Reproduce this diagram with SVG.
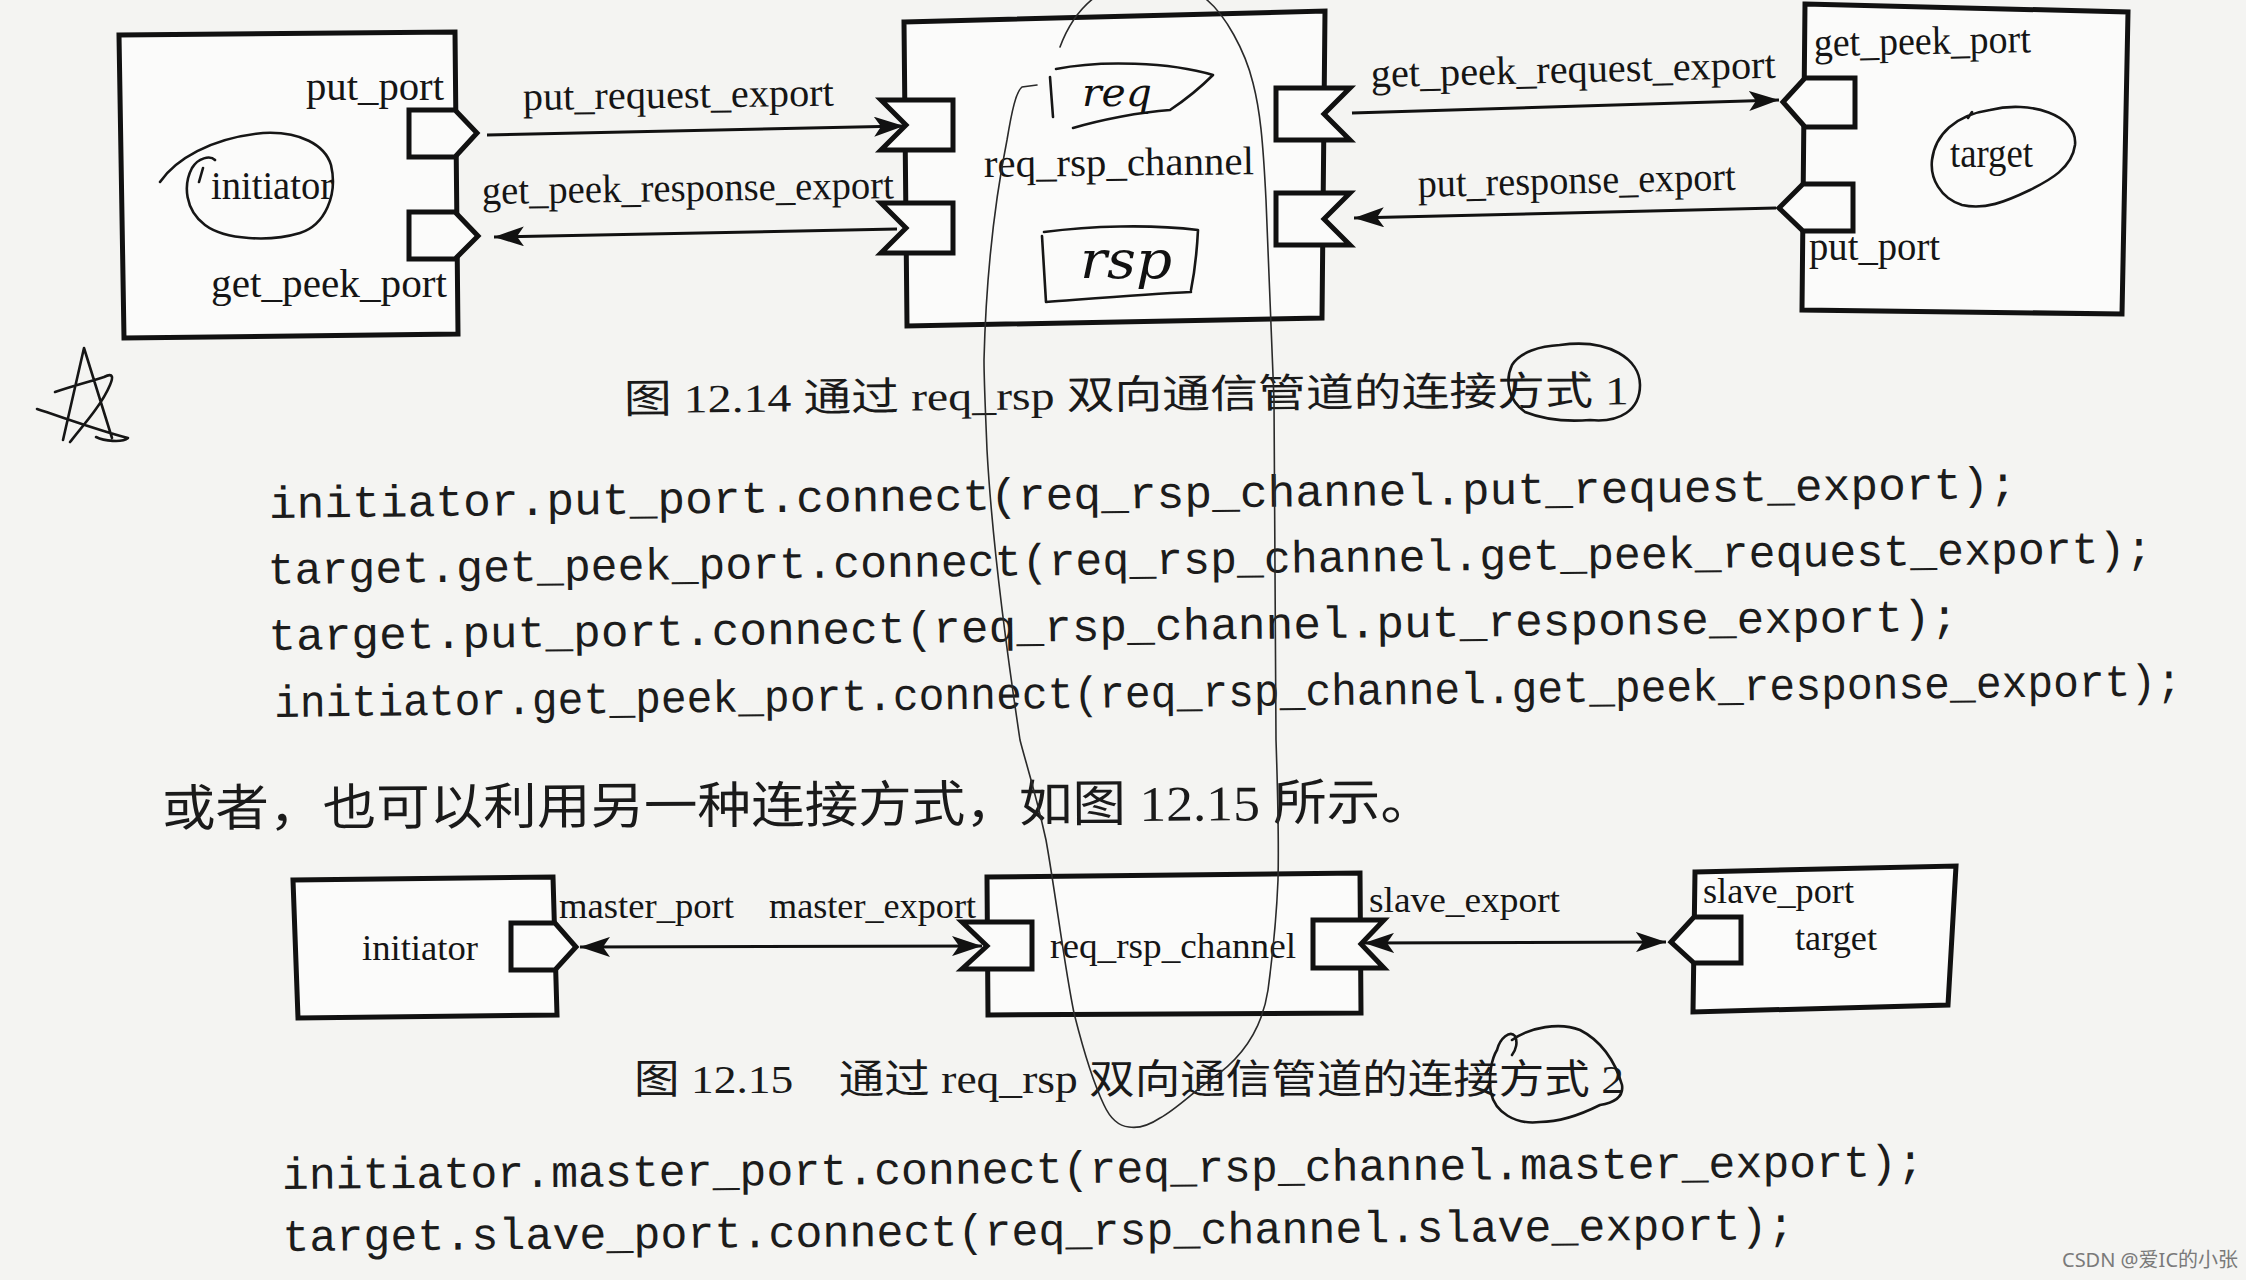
<svg xmlns="http://www.w3.org/2000/svg" width="2246" height="1280" viewBox="0 0 2246 1280">
<defs>
<style>
.box{fill:#fbfbfa;stroke:#111;stroke-width:5;stroke-linejoin:miter}
.port{fill:#fbfbfa;stroke:#111;stroke-width:5;stroke-linejoin:miter}
.wire{fill:none;stroke:#111;stroke-width:3}
.lbl{font-family:"Liberation Serif","Times New Roman",serif;font-size:40px;fill:#151515}
.lbl2{font-family:"Liberation Serif","Times New Roman",serif;font-size:35px;fill:#151515}
.code{font-family:"Liberation Mono","Courier New",monospace;font-size:45px;fill:#1c1c1c}
.cn{font-family:"Liberation Serif","Noto Sans CJK SC",serif;fill:#1a1a1a}
.pen{fill:none;stroke:#161616;stroke-width:2.6;stroke-linecap:round;stroke-linejoin:round}
.thin{fill:none;stroke:#2a2a2a;stroke-width:1.6;stroke-linecap:round}
.hand{font-family:"DejaVu Serif","Liberation Serif",serif;font-style:italic;fill:#111}
</style>
<marker id="ah" viewBox="0 0 30 20" refX="30" refY="10" markerWidth="30" markerHeight="20" markerUnits="userSpaceOnUse" orient="auto-start-reverse">
<path d="M0,0 L30,10 L0,20 L7,10 Z" fill="#111"/>
</marker>
</defs>
<rect x="0" y="0" width="2246" height="1280" fill="#f4f4f2"/>

<!-- Figure 12.14 -->
<g id="fig1-initiator">
<polygon class="box" points="119,35 455,32 458,334 124,338"/>
<polygon class="port" points="409,110 455,110 477,133 455,157 409,157"/>
<polygon class="port" points="409,212 455,212 478,236 455,259 409,259"/>
<text class="lbl" x="306" y="100" textLength="138" lengthAdjust="spacingAndGlyphs">put_port</text>
<text class="lbl" x="211" y="199" textLength="122" lengthAdjust="spacingAndGlyphs">initiator</text>
<text class="lbl" x="211" y="297" textLength="236" lengthAdjust="spacingAndGlyphs">get_peek_port</text>
</g>

<g id="fig1-channel">
<polygon class="box" points="904,22 1325,11 1322,318 907,326"/>
<polygon class="port" points="881,100 953,100 953,150 881,150 906,125"/>
<polygon class="port" points="881,203 953,203 953,253 881,253 906,228"/>
<polygon class="port" points="1276,88 1350,88 1324,114 1350,140 1276,140"/>
<polygon class="port" points="1276,193 1350,193 1324,219 1350,245 1276,245"/>
<text class="lbl" x="984" y="177" textLength="270" lengthAdjust="spacingAndGlyphs" transform="rotate(-0.6 984 177)">req_rsp_channel</text>
</g>

<g id="fig1-target">
<polygon class="box" points="1805,4 2128,12 2122,314 1802,310"/>
<polygon class="port" points="1783,102 1805,78 1855,78 1855,127 1805,127"/>
<polygon class="port" points="1779,208 1803,184 1853,184 1853,231 1803,231"/>
<text class="lbl" x="1814" y="56" textLength="217" lengthAdjust="spacingAndGlyphs" transform="rotate(-1 1814 56)">get_peek_port</text>
<text class="lbl" x="1950" y="167" textLength="83" lengthAdjust="spacingAndGlyphs">target</text>
<text class="lbl" x="1809" y="260" textLength="131" lengthAdjust="spacingAndGlyphs">put_port</text>
</g>

<!-- Figure 12.15 -->
<g id="fig2-initiator">
<polygon class="box" points="293,880 553,877 557,1015 298,1018"/>
<polygon class="port" points="511,923 555,923 576,947 555,970 511,970"/>
<text class="lbl2" x="362" y="960" textLength="116" lengthAdjust="spacingAndGlyphs">initiator</text>
<text class="lbl2" x="559" y="918" textLength="175" lengthAdjust="spacingAndGlyphs">master_port</text>
</g>

<g id="fig2-channel">
<polygon class="box" points="987,877 1360,873 1361,1013 988,1015"/>
<polygon class="port" points="962,922 1032,922 1032,969 962,969 987,946"/>
<polygon class="port" points="1313,920 1384,920 1361,944 1384,968 1313,968"/>
<text class="lbl2" x="769" y="918" textLength="207" lengthAdjust="spacingAndGlyphs">master_export</text>
<text class="lbl2" x="1050" y="958" textLength="246" lengthAdjust="spacingAndGlyphs">req_rsp_channel</text>
<text class="lbl2" x="1369" y="912" textLength="191" lengthAdjust="spacingAndGlyphs">slave_export</text>
</g>

<g id="fig2-target">
<polygon class="box" points="1695,872 1956,866 1948,1005 1693,1012"/>
<polygon class="port" points="1671,942 1694,917 1741,917 1741,963 1694,963"/>
<text class="lbl2" x="1703" y="903" textLength="151" lengthAdjust="spacingAndGlyphs">slave_port</text>
<text class="lbl2" x="1795" y="950" textLength="82" lengthAdjust="spacingAndGlyphs">target</text>
</g>

<g id="connectors">
<line class="wire" x1="487" y1="135" x2="904" y2="126" marker-end="url(#ah)"/>
<line class="wire" x1="897" y1="229" x2="494" y2="237" marker-end="url(#ah)"/>
<line class="wire" x1="1352" y1="113" x2="1779" y2="100" marker-end="url(#ah)"/>
<line class="wire" x1="1776" y1="208" x2="1354" y2="218" marker-end="url(#ah)"/>
<line class="wire" x1="580" y1="947" x2="982" y2="946" marker-start="url(#ah)" marker-end="url(#ah)"/>
<line class="wire" x1="1364" y1="943" x2="1666" y2="942" marker-start="url(#ah)" marker-end="url(#ah)"/>
<text class="lbl" x="523" y="110" textLength="311" lengthAdjust="spacingAndGlyphs" transform="rotate(-0.8 523 110)">put_request_export</text>
<text class="lbl" x="482" y="204" textLength="412" lengthAdjust="spacingAndGlyphs" transform="rotate(-0.8 482 204)">get_peek_response_export</text>
<text class="lbl" x="1371" y="87" textLength="405" lengthAdjust="spacingAndGlyphs" transform="rotate(-1.3 1371 87)">get_peek_request_export</text>
<text class="lbl" x="1418" y="197" textLength="318" lengthAdjust="spacingAndGlyphs" transform="rotate(-1.3 1418 197)">put_response_export</text>
</g>

<!-- Captions and body text -->
<g id="text">
<text class="cn" x="624" y="413" font-size="40" textLength="1005" lengthAdjust="spacingAndGlyphs" transform="rotate(-0.5 624 413)">图 12.14  通过 req_rsp 双向通信管道的连接方式 1</text>
<g transform="rotate(-0.65 269 518)">
<text class="code" x="269" y="518" textLength="1748" lengthAdjust="spacingAndGlyphs">initiator.put_port.connect(req_rsp_channel.put_request_export);</text>
<text class="code" x="267" y="584" textLength="1885" lengthAdjust="spacingAndGlyphs">target.get_peek_port.connect(req_rsp_channel.get_peek_request_export);</text>
<text class="code" x="267" y="650" textLength="1690" lengthAdjust="spacingAndGlyphs">target.put_port.connect(req_rsp_channel.put_response_export);</text>
<text class="code" x="272" y="717" textLength="1908" lengthAdjust="spacingAndGlyphs">initiator.get_peek_port.connect(req_rsp_channel.get_peek_response_export);</text>
</g>
<text class="cn" x="162" y="826" font-size="50" textLength="1272" lengthAdjust="spacingAndGlyphs" transform="rotate(-0.3 162 826)">或者，也可以利用另一种连接方式，如图 12.15 所示。</text>
<text class="cn" x="634" y="1093" font-size="40" textLength="990" lengthAdjust="spacingAndGlyphs">图 12.15　通过 req_rsp 双向通信管道的连接方式 2</text>
<g transform="rotate(-0.45 282 1189)">
<text class="code" x="282" y="1189" textLength="1642" lengthAdjust="spacingAndGlyphs">initiator.master_port.connect(req_rsp_channel.master_export);</text>
<text class="code" x="282" y="1251" textLength="1512" lengthAdjust="spacingAndGlyphs">target.slave_port.connect(req_rsp_channel.slave_export);</text>
</g>
<text x="2062" y="1267" font-family="'Noto Sans','Noto Sans CJK SC',sans-serif" font-size="20" fill="#7a7a7a">CSDN @爱IC的小张</text>
</g>

<!-- Handwritten annotations -->
<g id="annotations">
<path class="thin" d="M1060,47 C1070,20 1085,0 1110,-12 C1140,-28 1185,-20 1207,0 C1225,15 1245,50 1253,83 C1260,110 1263,140 1266,200 L1274,400 L1276,740 C1278,800 1279,840 1278,880 C1276,930 1272,960 1268,990 C1262,1030 1240,1060 1210,1080 C1190,1095 1175,1110 1160,1118 C1145,1128 1135,1128 1129,1127 C1118,1126 1110,1118 1104,1105 C1092,1080 1082,1045 1074,1013 C1065,970 1055,890 1046,840 C1035,790 1025,760 1020,740 C1005,640 992,540 987,450 C985,400 984,380 984,360 C986,280 995,200 1007,140 C1012,110 1016,92 1022,87 L1037,85"/>
<path class="pen" d="M1050,77 L1053,117" stroke-width="5"/>
<path class="pen" d="M1056,69 C1100,60 1170,62 1213,75 C1200,88 1185,100 1170,110 M1073,128 C1100,120 1140,112 1170,110"/>
<text class="hand" x="1082" y="106" font-size="40" textLength="70" lengthAdjust="spacingAndGlyphs">req</text>
<path class="pen" d="M1042,236 L1046,302 M1044,232 C1090,226 1150,224 1198,230 C1197,250 1195,270 1191,290 M1046,302 C1100,298 1150,294 1191,292"/>
<text class="hand" x="1080" y="278" font-size="52" textLength="92" lengthAdjust="spacingAndGlyphs">rsp</text>
<path class="pen" d="M160,182 C175,160 210,138 263,133 C300,131 325,145 331,165 C338,195 325,225 300,233 C270,242 225,240 205,225 C185,210 183,185 192,168 C198,158 210,155 215,160 M203,168 L199,182"/>
<path class="pen" d="M1990,110 C2030,100 2078,115 2075,145 C2072,168 2050,180 2030,190 C2005,202 1985,210 1962,205 C1940,198 1930,178 1932,160 C1935,135 1955,115 1990,110 M1968,118 L1972,112"/>
<path class="pen" d="M1560,345 C1610,338 1640,360 1640,385 C1640,410 1620,423 1590,420 C1565,422 1545,420 1525,412 C1508,400 1505,380 1512,365 C1520,352 1540,346 1560,345"/>
<path class="pen" d="M1497,1050 C1500,1038 1510,1030 1515,1036 C1518,1042 1516,1050 1512,1055 M1512,1040 C1530,1027 1560,1022 1580,1030 C1600,1040 1615,1060 1622,1085 C1624,1098 1612,1103 1600,1105 C1580,1115 1560,1122 1540,1122 C1515,1125 1495,1112 1491,1093 C1488,1075 1492,1058 1497,1050"/>
<path class="pen" stroke-width="3.4" d="M63,440 L84,348 L112,438 M55,392 C72,386 92,381 104,377 C114,372 113,378 110,385 C103,402 88,420 70,442 M37,409 C62,417 97,430 128,438 C122,443 104,441 96,437"/>
</g>
</svg>
